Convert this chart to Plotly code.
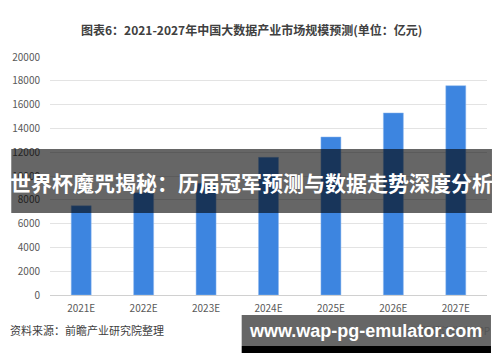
import plotly.graph_objects as go

categories = ["2021E", "2022E", "2023E", "2024E", "2025E", "2026E", "2027E"]
values = [7500, 8600, 9390, 11570, 13280, 15300, 17590]
y_ticks = [0, 2000, 4000, 6000, 8000, 10000, 12000, 14000, 16000, 18000, 20000]

title_text = "图表6：2021-2027年中国大数据产业市场规模预测(单位：亿元)"
source_text = "资料来源：前瞻产业研究院整理"
banner_text = "世界杯魔咒揭秘：历届冠军预测与数据走势深度分析"
url_text = "www.wap-pg-emulator.com"
app_text = "@前瞻经济学人APP"

FONT = "Noto Sans CJK SC"

fig = go.Figure()
fig.add_trace(go.Bar(
    x=categories, y=values,
    marker=dict(color="#3d85e0", line=dict(color="#8fb8ee", width=0.5)),
    showlegend=False,
))

L, R, T, B = 47, 13, 57, 67
W, H = 500, 362
plot_w = W - L - R
plot_h = H - T - B

def px_x(x):
    return (x - L) / plot_w

def px_y(y):
    return (H - B - y) / plot_h

fig.update_layout(
    width=W, height=H,
    margin=dict(l=L, r=R, t=T, b=B),
    paper_bgcolor="white", plot_bgcolor="white",
    bargap=0.68,
    font=dict(family=FONT, color="#595959", size=10),
    xaxis=dict(showgrid=False, showline=False, ticks="", tickfont=dict(size=10, color="#595959"),
               ticklabelstandoff=6),
    yaxis=dict(range=[0, 20000], tickvals=y_ticks, tickformat="d", showgrid=True,
               gridcolor="#e3e3e3", gridwidth=1,
               zeroline=True, zerolinecolor="#d0d0d0", zerolinewidth=1, showline=False,
               tickfont=dict(size=10, color="#595959"), ticklabelstandoff=9),
)

def ann(text, x, y, size, color, family=FONT, xanchor="center"):
    return dict(text=text, xref="paper", yref="paper", x=px_x(x), y=px_y(y),
                xanchor=xanchor, yanchor="middle", showarrow=False,
                font=dict(size=size, color=color, family=family))

annotations = [
    ann("<b>" + title_text + "</b>", 250, 30, 12, "#404040"),
    ann(source_text, 5, 330, 11, "#404040", xanchor="left"),
    ann(app_text, 492, 330, 10, "#555555", xanchor="right"),
]

shapes = [
    dict(type="rect", xref="paper", yref="paper", x0=px_x(8), x1=px_x(492), y0=px_y(213), y1=px_y(149),
         fillcolor="rgba(0,0,0,0.6)", line=dict(width=0), layer="above"),
    dict(type="rect", xref="paper", yref="paper", x0=px_x(240), x1=px_x(491), y0=px_y(346), y1=px_y(315),
         fillcolor="rgba(0,0,0,0.6)", line=dict(width=0), layer="above"),
    dict(type="rect", xref="paper", yref="paper", x0=px_x(240), x1=px_x(491), y0=px_y(353), y1=px_y(346),
         fillcolor="black", line=dict(width=0), layer="above"),
]
annotations.append(ann("<b>" + banner_text + "</b>", 250, 182, 21, "white"))
annotations.append(ann("<b>" + url_text + "</b>", 365, 331, 18, "white", family="Liberation Sans"))

fig.update_layout(annotations=annotations, shapes=shapes)
fig.write_html("out.html")
